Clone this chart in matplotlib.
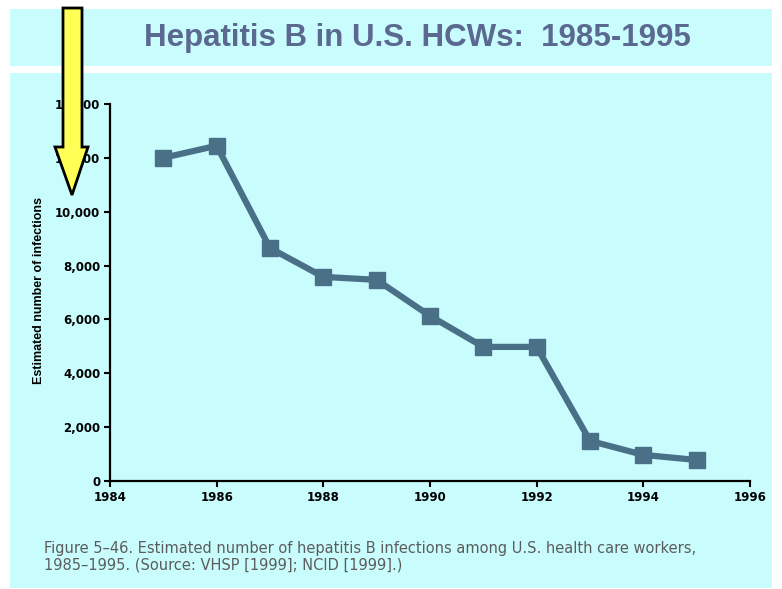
import matplotlib
matplotlib.use("Agg")
import matplotlib.pyplot as plt
from matplotlib.patches import Rectangle, Polygon

# datos
anios = [1985, 1986, 1987, 1988, 1989, 1990, 1991, 1992, 1993, 1994, 1995]
infecciones = [12000, 12450, 8650, 7580, 7470, 6130, 4980, 4980, 1490, 970, 780]
xticks = [1984, 1986, 1988, 1990, 1992, 1994, 1996]
yticks = [0, 2000, 4000, 6000, 8000, 10000, 12000, 14000]

W, H = 782, 589
CYAN = "#c9fdfd"

fig = plt.figure(figsize=(W / 100, H / 100), dpi=100)
fig.patch.set_facecolor("white")

def px(x, y):
    # pixeles (desde arriba-izquierda) -> fraccion de figura
    return x / W, 1 - y / H

# bandas de fondo
x0, y0 = px(10, 66)
fig.patches.append(Rectangle((x0, y0), 762 / W, 57 / H, transform=fig.transFigure,
                             facecolor=CYAN, edgecolor="none", zorder=-5))
x0, y0 = px(10, 588)
fig.patches.append(Rectangle((x0, y0), 762 / W, 515 / H, transform=fig.transFigure,
                             facecolor=CYAN, edgecolor="none", zorder=-5))

fig.text(417 / W, 1 - 38 / H, "Hepatitis B in U.S. HCWs:  1985-1995",
         ha="center", va="center", fontsize=22.5, fontweight="bold",
         color="#5b6890", family="Liberation Sans")

ax = fig.add_axes([110 / W, 1 - 481 / H, 640 / W, 377 / H])
ax.set_facecolor("none")
ax.plot(anios, infecciones, color="#4a7088", linewidth=4.5, marker="s",
        markersize=11, clip_on=False)
ax.set_xlim(1984, 1996)
ax.set_ylim(0, 14000)
ax.set_xticks(xticks)
ax.set_yticks(yticks)
ax.set_yticklabels([f"{v:,}" for v in yticks])
for s in ["top", "right"]:
    ax.spines[s].set_visible(False)
for s in ["left", "bottom"]:
    ax.spines[s].set_linewidth(1.6)
ax.tick_params(direction="out", length=4, width=1.5, labelsize=8.5, pad=3)
for lab in ax.get_xticklabels() + ax.get_yticklabels():
    lab.set_fontweight("bold")
    lab.set_family("DejaVu Sans")

fig.text(39 / W, 1 - 290 / H, "Estimated number of infections", rotation=90,
         ha="center", va="center", fontsize=9, fontweight="bold",
         family="Liberation Sans")

fig.text(44 / W, 1 - 548 / H,
         "Figure 5\u201346. Estimated number of hepatitis B infections among U.S. health care workers,",
         ha="left", va="center", fontsize=10.5, color="#5c5c5c", family="DejaVu Sans")
fig.text(44 / W, 1 - 565 / H,
         "1985\u20131995. (Source: VHSP [1999]; NCID [1999].)",
         ha="left", va="center", fontsize=10.5, color="#5c5c5c", family="DejaVu Sans")

# flecha amarilla
flecha = [(63, 8), (82, 8), (82, 147), (88, 147), (72, 195), (55, 147), (63, 147)]
fig.patches.append(Polygon([px(a, b) for a, b in flecha], closed=True,
                           transform=fig.transFigure, facecolor="#ffff55",
                           edgecolor="black", linewidth=2, zorder=10))

fig.savefig("out.png", dpi=100)
